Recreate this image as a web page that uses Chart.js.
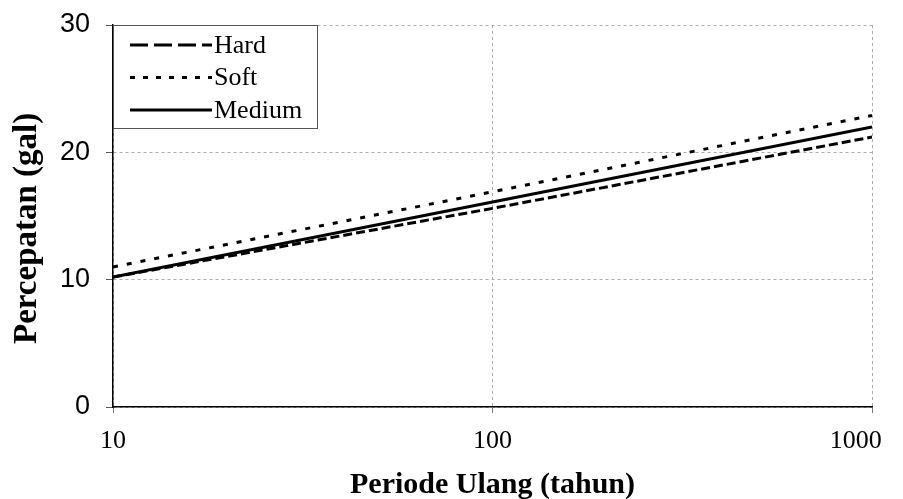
<!DOCTYPE html>
<html lang="en">
<head>
    <meta charset="UTF-8">
    <title>Percepatan vs Periode Ulang</title>
    <script src="https://cdn.jsdelivr.net/npm/chart.js"></script>
    <style>
        body { margin: 0; background: #fff; }
        canvas { display: block; }
    </style>
</head>
<body>
    <canvas id="chart" width="903" height="499"></canvas>

    <script>
        // data
        const periods = [10, 100, 1000];
        const hardValues = [10.2, 15.6, 21.2];
        const softValues = [11.0, 16.9, 22.9];
        const mediumValues = [10.2, 16.1, 22.0];
        const xTicks = [10, 100, 1000];
        const yTicks = [0, 10, 20, 30];

        const toPoints = vals => periods.map((p, i) => ({ x: p, y: vals[i] }));

        // legend box drawn inside the plot, top-left
        const boxLegend = {
            id: 'boxLegend',
            afterDraw(chart) {
                const ctx = chart.ctx;
                const left = chart.chartArea.left;
                const top = chart.chartArea.top;
                const legendDash = [[18, 6], [5, 8], []];
                ctx.save();
                ctx.fillStyle = '#fff';
                ctx.fillRect(left, top, 204, 103);
                ctx.strokeStyle = '#555';
                ctx.lineWidth = 1;
                ctx.strokeRect(left + 0.5, top + 0.5, 204, 103);
                ctx.font = '26px "Liberation Serif", "Times New Roman", serif';
                ctx.textBaseline = 'middle';
                ctx.fillStyle = '#000';
                chart.data.datasets.forEach((ds, i) => {
                    const y = top + 20 + i * 32.5;
                    ctx.setLineDash(legendDash[i]);
                    ctx.strokeStyle = '#000';
                    ctx.lineWidth = 3;
                    ctx.beginPath();
                    ctx.moveTo(left + 17, y);
                    ctx.lineTo(left + 99, y);
                    ctx.stroke();
                    ctx.setLineDash([]);
                    ctx.fillText(ds.label, left + 101, y + 1);
                });
                ctx.restore();
            }
        };

        const ctx = document.getElementById('chart').getContext('2d');
        const chart = new Chart(ctx, {
            type: 'line',
            data: {
                datasets: [{
                    label: 'Hard',
                    data: toPoints(hardValues),
                    borderColor: '#000',
                    borderWidth: 3,
                    borderDash: [9, 4],
                    pointRadius: 0
                }, {
                    label: 'Soft',
                    data: toPoints(softValues),
                    borderColor: '#000',
                    borderWidth: 3,
                    borderDash: [5, 9],
                    pointRadius: 0
                }, {
                    label: 'Medium',
                    data: toPoints(mediumValues),
                    borderColor: '#000',
                    borderWidth: 3,
                    pointRadius: 0
                }]
            },
            options: {
                responsive: false,
                animation: false,
                layout: { padding: { left: 0, right: 31, top: 25, bottom: 0 } },
                plugins: {
                    legend: { display: false },
                    tooltip: { enabled: false }
                },
                scales: {
                    x: {
                        type: 'logarithmic',
                        min: 10,
                        max: 1000,
                        afterBuildTicks: s => { s.ticks = xTicks.map(v => ({ value: v })); },
                        afterFit: s => { s.height = 92; s.paddingLeft = 0; s.paddingRight = 0; },
                        grid: { color: '#aaa', tickLength: 6, tickColor: '#777' },
                        border: { color: '#000', width: 1.5, dash: [3, 3] },
                        ticks: {
                            color: '#000',
                            padding: 13,
                            maxRotation: 0,
                            font: { family: '"Liberation Serif", "Times New Roman", serif', size: 26 },
                            // last label sits left of its tick in the original
                            callback: v => v === 1000 ? String(v) + '     ' : String(v)
                        },
                        title: {
                            display: true,
                            text: 'Periode Ulang (tahun)',
                            color: '#000',
                            padding: { top: 0, bottom: -4 },
                            font: { family: '"Liberation Serif", "Times New Roman", serif', size: 30, weight: 'bold' }
                        }
                    },
                    y: {
                        min: 0,
                        max: 30,
                        afterBuildTicks: s => { s.ticks = yTicks.map(v => ({ value: v })); },
                        afterFit: s => { s.width = 113; s.paddingTop = 0; s.paddingBottom = 0; },
                        grid: { color: '#aaa', tickLength: 7, tickColor: '#555' },
                        border: { color: '#000', width: 1.5, dash: [3, 3] },
                        ticks: {
                            color: '#000',
                            padding: 16,
                            font: { family: '"Liberation Sans", Arial, sans-serif', size: 27 }
                        },
                        title: {
                            display: true,
                            // trailing spaces nudge the title down, as in the original
                            text: 'Percepatan (gal)   ',
                            color: '#000',
                            padding: { top: 8, bottom: 0 },
                            font: { family: '"Liberation Serif", "Times New Roman", serif', size: 33, weight: 'bold' }
                        }
                    }
                }
            },
            plugins: [boxLegend]
        });
    </script>
</body>
</html>
